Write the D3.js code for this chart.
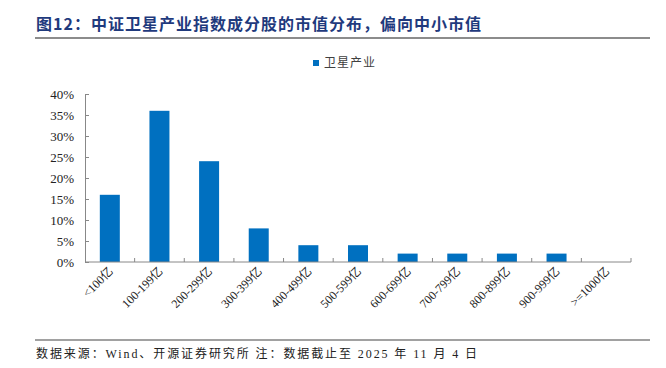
<!DOCTYPE html>
<html>
<head>
<meta charset="utf-8">
<script src="https://cdn.jsdelivr.net/npm/d3@7"></script>
<style>
  body { margin: 0; background: #fff; }
  svg { display: block; }
</style>
</head>
<body>
<div id="chart"></div>
<script>
// categories and values (share of constituents, %)
var categories = ["<100亿", "100-199亿", "200-299亿", "300-399亿", "400-499亿", "500-599亿",
                  "600-699亿", "700-799亿", "800-899亿", "900-999亿", ">=1000亿"];
var shares = [16, 36, 24, 8, 4, 4, 2, 2, 2, 2, 0];
var yTicks = [0, 5, 10, 15, 20, 25, 30, 35, 40];
var seriesName = "卫星产业";

var width = 666, height = 368;
var cjk = "'Noto Sans CJK SC', sans-serif";
var serif = "'Liberation Serif', 'Times New Roman', 'Noto Sans CJK SC', serif";

var svg = d3.select("#chart").append("svg")
    .attr("width", width)
    .attr("height", height);

// title + grey rule
svg.append("text")
    .attr("x", 36)
    .attr("y", 30)
    .attr("font-family", cjk)
    .attr("font-weight", "bold")
    .attr("font-size", 16)
    .attr("letter-spacing", 1)
    .attr("fill", "#1f3a7d")
    .text("图12：中证卫星产业指数成分股的市值分布，偏向中小市值");

svg.append("line")
    .attr("x1", 35).attr("x2", 650)
    .attr("y1", 38).attr("y2", 38)
    .attr("stroke", "#8c8c8c")
    .attr("stroke-width", 2);

// scales
var x = d3.scaleBand().domain(categories).range([85, 631]);
var y = d3.scaleLinear().domain([0, 40]).range([262, 94]);
var barW = 20;

// bars
svg.selectAll(".bar")
    .data(shares)
    .enter().append("rect")
    .attr("class", "bar")
    .attr("x", function(d, i) { return x(categories[i]) + x.bandwidth() / 2 - barW / 2; })
    .attr("y", function(d) { return y(d); })
    .attr("width", barW)
    .attr("height", function(d) { return y(0) - y(d); })
    .attr("fill", "#0070c0");

// y axis, ticks pointing inward
var yAxis = svg.append("g")
    .attr("transform", "translate(85,0)")
    .call(d3.axisLeft(y).tickValues(yTicks).tickSize(-4).tickPadding(11)
        .tickFormat(function(d) { return d + "%"; }));
yAxis.select(".domain").attr("stroke", "#888");
yAxis.selectAll(".tick line").attr("stroke", "#888");
yAxis.selectAll("text")
    .attr("font-family", serif)
    .attr("font-size", 13)
    .attr("fill", "#222");

// x axis, ticks at band edges, pointing up
var xAxis = svg.append("g")
    .attr("transform", "translate(0,262)");
xAxis.append("line")
    .attr("x1", 85).attr("x2", 631)
    .attr("stroke", "#888");
xAxis.selectAll(".edge")
    .data(categories)
    .enter().append("line")
    .attr("class", "edge")
    .attr("x1", function(d) { return x(d) + x.bandwidth(); })
    .attr("x2", function(d) { return x(d) + x.bandwidth(); })
    .attr("y1", 0).attr("y2", -4)
    .attr("stroke", "#888");
xAxis.selectAll(".lbl")
    .data(categories)
    .enter().append("text")
    .attr("class", "lbl")
    .attr("text-anchor", "end")
    .attr("font-family", serif)
    .attr("font-size", 12)
    .attr("fill", "#222")
    .attr("transform", function(d) {
        return "translate(" + (x(d) + x.bandwidth() / 2 + 4) + ",10) rotate(-45)";
    })
    .text(function(d) { return d; });

// legend
svg.append("rect")
    .attr("x", 313).attr("y", 60)
    .attr("width", 6).attr("height", 6)
    .attr("fill", "#0070c0");
svg.append("text")
    .attr("x", 324).attr("y", 67)
    .attr("font-family", cjk)
    .attr("font-size", 12)
    .attr("letter-spacing", 1)
    .attr("fill", "#404040")
    .text(seriesName);

// source line
svg.append("line")
    .attr("x1", 35).attr("x2", 650)
    .attr("y1", 340).attr("y2", 340)
    .attr("stroke", "#444")
    .attr("stroke-width", 1.2);
svg.append("text")
    .attr("x", 36).attr("y", 358)
    .attr("font-family", serif)
    .attr("font-size", 12)
    .attr("fill", "#222")
    .attr("textLength", 441)
    .attr("lengthAdjust", "spacing")
    .text("数据来源：Wind、开源证券研究所 注：数据截止至 2025 年 11 月 4 日");
</script>
</body>
</html>
